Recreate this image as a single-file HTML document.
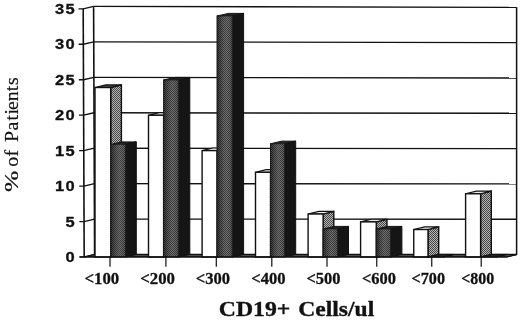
<!DOCTYPE html>
<html><head><meta charset="utf-8"><title>CD19+ Cells/ul</title>
<style>html,body{margin:0;padding:0;background:#fff}svg{display:block}</style></head>
<body>
<svg width="520" height="320" viewBox="0 0 520 320">
<defs>
<pattern id="pg" width="2" height="2" patternUnits="userSpaceOnUse"><rect width="2" height="2" fill="#b4b4b4"/><rect width="1" height="1" fill="#464646"/><rect x="1" y="1" width="1" height="1" fill="#464646"/></pattern>
<pattern id="pd" width="2" height="2" patternUnits="userSpaceOnUse"><rect width="2" height="2" fill="#6a6a6a"/><rect width="1" height="1" fill="#303030"/><rect x="1" y="1" width="1" height="1" fill="#303030"/></pattern>
<linearGradient id="lg" x1="0" x2="1" y1="0" y2="0"><stop offset="0" stop-color="#000" stop-opacity="0.45"/><stop offset="0.3" stop-color="#000" stop-opacity="0.1"/><stop offset="0.6" stop-color="#fff" stop-opacity="0.06"/><stop offset="1" stop-color="#000" stop-opacity="0.1"/></linearGradient>
</defs>
<rect width="520" height="320" fill="#fff"/>
<g stroke="#111" stroke-width="1.35" fill="none">
<path d="M93.60 6.45L516.6 7.35"/>
<path d="M78.50 8.80H83.20L93.60 6.45"/>
<path d="M93.74 41.89L516.6 42.66"/>
<path d="M78.64 44.26H83.34L93.74 41.89"/>
<path d="M93.89 77.33L516.6 77.97"/>
<path d="M78.79 79.72H83.49L93.89 77.33"/>
<path d="M94.03 112.77L516.6 113.28"/>
<path d="M78.93 115.18H83.63L94.03 112.77"/>
<path d="M94.17 148.21L516.6 148.59"/>
<path d="M79.07 150.64H83.77L94.17 148.21"/>
<path d="M94.31 183.65L516.6 183.90"/>
<path d="M79.21 186.10H83.91L94.31 183.65"/>
<path d="M94.46 219.09L516.6 219.21"/>
<path d="M79.36 221.56H84.06L94.46 219.09"/>
<path d="M94.60 254.53L516.6 254.52"/>
<path d="M79.50 257.02H84.20L94.60 254.53"/>
<path d="M83.2 8.80L84.2 257.0" stroke-width="1.6"/>
<path d="M93.6 6.45L94.6 254.53" stroke-width="1.6"/>
<path d="M516.6 7.35V254.52L506.2 257.0" stroke-width="1.5"/>
</g>
<path d="M84.2 257.0H506.2L516.6 254.52L94.6 254.53Z" fill="#4a4a4a" stroke="#111" stroke-width="1.1"/>
<path d="M110.7 87.5L121.4 84.9V254.4L110.7 257.0Z" fill="url(#pg)" stroke="#111" stroke-width="1.4"/>
<path d="M95.0 87.5L105.7 84.9H121.4L110.7 87.5Z" fill="#444" stroke="#111" stroke-width="1.1"/>
<rect x="95.0" y="87.5" width="15.700000000000003" height="169.5" fill="#fff" stroke="#111" stroke-width="1.4"/>
<path d="M125.4 144.5L136.3 141.9V254.4L125.4 257.0Z" fill="#151515" stroke="#111" stroke-width="1"/>
<path d="M110.7 144.5L121.60000000000001 141.9H136.3L125.4 144.5Z" fill="#222" stroke="#111" stroke-width="1"/>
<rect x="110.7" y="144.5" width="14.700000000000003" height="112.5" fill="url(#pd)" stroke="#222" stroke-width="1"/>
<rect x="110.7" y="144.5" width="14.700000000000003" height="112.5" fill="url(#lg)"/>
<path d="M163.6 115.25L174.29999999999998 112.65V254.4L163.6 257.0Z" fill="url(#pg)" stroke="#111" stroke-width="1.4"/>
<path d="M148.5 115.25L159.2 112.65H174.29999999999998L163.6 115.25Z" fill="#e8e8e8" stroke="#111" stroke-width="1.1"/>
<rect x="148.5" y="115.25" width="15.099999999999994" height="141.75" fill="#fff" stroke="#111" stroke-width="1.4"/>
<path d="M178.4 80.0L189.8 77.4V254.4L178.4 257.0Z" fill="#151515" stroke="#111" stroke-width="1"/>
<path d="M163.6 80.0L175.0 77.4H189.8L178.4 80.0Z" fill="#222" stroke="#111" stroke-width="1"/>
<rect x="163.6" y="80.0" width="14.800000000000011" height="177.0" fill="url(#pd)" stroke="#222" stroke-width="1"/>
<rect x="163.6" y="80.0" width="14.800000000000011" height="177.0" fill="url(#lg)"/>
<path d="M217.0 150.6L227.7 148.0V254.4L217.0 257.0Z" fill="url(#pg)" stroke="#111" stroke-width="1.4"/>
<path d="M202.1 150.6L212.79999999999998 148.0H227.7L217.0 150.6Z" fill="#e8e8e8" stroke="#111" stroke-width="1.1"/>
<rect x="202.1" y="150.6" width="14.900000000000006" height="106.4" fill="#fff" stroke="#111" stroke-width="1.4"/>
<path d="M232.2 16.0L243.6 13.4V254.4L232.2 257.0Z" fill="#151515" stroke="#111" stroke-width="1"/>
<path d="M217.0 16.0L228.4 13.4H243.6L232.2 16.0Z" fill="#222" stroke="#111" stroke-width="1"/>
<rect x="217.0" y="16.0" width="15.199999999999989" height="241.0" fill="url(#pd)" stroke="#222" stroke-width="1"/>
<rect x="217.0" y="16.0" width="15.199999999999989" height="241.0" fill="url(#lg)"/>
<path d="M270.5 172.25L281.2 169.65V254.4L270.5 257.0Z" fill="url(#pg)" stroke="#111" stroke-width="1.4"/>
<path d="M255.5 172.25L266.2 169.65H281.2L270.5 172.25Z" fill="#e8e8e8" stroke="#111" stroke-width="1.1"/>
<rect x="255.5" y="172.25" width="15.0" height="84.75" fill="#fff" stroke="#111" stroke-width="1.4"/>
<path d="M284.5 143.75L295.7 141.15V254.4L284.5 257.0Z" fill="#151515" stroke="#111" stroke-width="1"/>
<path d="M270.5 143.75L281.7 141.15H295.7L284.5 143.75Z" fill="#222" stroke="#111" stroke-width="1"/>
<rect x="270.5" y="143.75" width="14.0" height="113.25" fill="url(#pd)" stroke="#222" stroke-width="1"/>
<rect x="270.5" y="143.75" width="14.0" height="113.25" fill="url(#lg)"/>
<path d="M323.1 214.0L333.8 211.4V254.4L323.1 257.0Z" fill="url(#pg)" stroke="#111" stroke-width="1.4"/>
<path d="M308.1 214.0L318.8 211.4H333.8L323.1 214.0Z" fill="#e8e8e8" stroke="#111" stroke-width="1.1"/>
<rect x="308.1" y="214.0" width="15.0" height="43.0" fill="#fff" stroke="#111" stroke-width="1.4"/>
<path d="M337.5 229.0L348.5 226.4V254.4L337.5 257.0Z" fill="#151515" stroke="#111" stroke-width="1"/>
<path d="M323.1 229.0L334.1 226.4H348.5L337.5 229.0Z" fill="#222" stroke="#111" stroke-width="1"/>
<rect x="323.1" y="229.0" width="14.399999999999977" height="28.0" fill="url(#pd)" stroke="#222" stroke-width="1"/>
<rect x="323.1" y="229.0" width="14.399999999999977" height="28.0" fill="url(#lg)"/>
<path d="M376.25 221.9L386.95 219.3V254.4L376.25 257.0Z" fill="url(#pg)" stroke="#111" stroke-width="1.4"/>
<path d="M360.6 221.9L371.3 219.3H386.95L376.25 221.9Z" fill="#e8e8e8" stroke="#111" stroke-width="1.1"/>
<rect x="360.6" y="221.9" width="15.649999999999977" height="35.099999999999994" fill="#fff" stroke="#111" stroke-width="1.4"/>
<path d="M390.6 229.0L401.9 226.4V254.4L390.6 257.0Z" fill="#151515" stroke="#111" stroke-width="1"/>
<path d="M376.25 229.0L387.54999999999995 226.4H401.9L390.6 229.0Z" fill="#222" stroke="#111" stroke-width="1"/>
<rect x="376.25" y="229.0" width="14.350000000000023" height="28.0" fill="url(#pd)" stroke="#222" stroke-width="1"/>
<rect x="376.25" y="229.0" width="14.350000000000023" height="28.0" fill="url(#lg)"/>
<path d="M428.0 229.5L438.7 226.9V254.4L428.0 257.0Z" fill="url(#pg)" stroke="#111" stroke-width="1.4"/>
<path d="M413.75 229.5L424.45 226.9H438.7L428.0 229.5Z" fill="#e8e8e8" stroke="#111" stroke-width="1.1"/>
<rect x="413.75" y="229.5" width="14.25" height="27.5" fill="#fff" stroke="#111" stroke-width="1.4"/>
<path d="M443.0 257.0L454.0 254.4V254.4L443.0 257.0Z" fill="#151515" stroke="#111" stroke-width="1"/>
<path d="M428.0 257.0L439.0 254.4H454.0L443.0 257.0Z" fill="#222" stroke="#111" stroke-width="1"/>
<path d="M480.6 193.75L491.3 191.15V254.4L480.6 257.0Z" fill="url(#pg)" stroke="#111" stroke-width="1.4"/>
<path d="M465.6 193.75L476.3 191.15H491.3L480.6 193.75Z" fill="#e8e8e8" stroke="#111" stroke-width="1.1"/>
<rect x="465.6" y="193.75" width="15.0" height="63.25" fill="#fff" stroke="#111" stroke-width="1.4"/>
<path d="M495.6 257.0L506.6 254.4V254.4L495.6 257.0Z" fill="#151515" stroke="#111" stroke-width="1"/>
<path d="M480.6 257.0L491.6 254.4H506.6L495.6 257.0Z" fill="#222" stroke="#111" stroke-width="1"/>
<g stroke="#111" stroke-width="1.2" fill="none">
<path d="M79.5 256.85H506.2"/>
<path d="M110 257.0V266.8"/>
<path d="M165.9 257.0V266.8"/>
<path d="M216.3 257.0V266.8"/>
<path d="M271.8 257.0V266.8"/>
<path d="M327 257.0V266.8"/>
<path d="M376.75 257.0V266.8"/>
<path d="M431.75 257.0V266.8"/>
<path d="M481.2 257.0V266.8"/>
</g>
<g font-family="Liberation Sans, sans-serif" font-weight="bold" font-size="14.6" fill="#111" stroke="#111" stroke-width="0.3" letter-spacing="1.3">
<text transform="translate(54.9,13.90) scale(1.13,1)">35</text>
<text transform="translate(54.9,49.36) scale(1.13,1)">30</text>
<text transform="translate(54.9,84.82) scale(1.13,1)">25</text>
<text transform="translate(54.9,120.28) scale(1.13,1)">20</text>
<text transform="translate(54.9,155.74) scale(1.13,1)">15</text>
<text transform="translate(54.9,191.20) scale(1.13,1)">10</text>
<text transform="translate(65.55,226.66) scale(1.13,1)">5</text>
<text transform="translate(65.55,262.12) scale(1.13,1)">0</text>
</g>
<g font-family="Liberation Serif, serif" font-weight="bold" font-size="17.2" fill="#111" stroke="#111" stroke-width="0.3">
<text x="84.5" y="283.6" textLength="34.75" lengthAdjust="spacingAndGlyphs">&lt;100</text>
<text x="140.25" y="283.6" textLength="34.75" lengthAdjust="spacingAndGlyphs">&lt;200</text>
<text x="195.75" y="283.6" textLength="34.25" lengthAdjust="spacingAndGlyphs">&lt;300</text>
<text x="251.25" y="283.6" textLength="34.25" lengthAdjust="spacingAndGlyphs">&lt;400</text>
<text x="306.5" y="283.6" textLength="34" lengthAdjust="spacingAndGlyphs">&lt;500</text>
<text x="362.0" y="283.6" textLength="34.0" lengthAdjust="spacingAndGlyphs">&lt;600</text>
<text x="411.5" y="283.6" textLength="33.5" lengthAdjust="spacingAndGlyphs">&lt;700</text>
<text x="461.25" y="283.6" textLength="33.0" lengthAdjust="spacingAndGlyphs">&lt;800</text>
</g>
<g font-family="Liberation Serif, serif" font-weight="bold" font-size="21.6" fill="#111" stroke="#111" stroke-width="0.35"><text x="218.8" y="316.3" textLength="71.6" lengthAdjust="spacingAndGlyphs">CD19+</text><text x="298.2" y="316.3" textLength="76" lengthAdjust="spacingAndGlyphs">Cells/ul</text></g>
<g transform="translate(17.7,191.3) rotate(-90)" font-family="Liberation Serif, serif" font-size="18" fill="#111" stroke="#111" stroke-width="0.2">
<text transform="scale(1.42,1)" x="-0.5" y="0">%</text>
<text transform="scale(1.1,1)" x="22.41 31.60 44.88 55.30 64.30 69.88 73.86 81.79 91.07 96.74" y="0">ofPatients</text>
</g>
</svg>
</body></html>
